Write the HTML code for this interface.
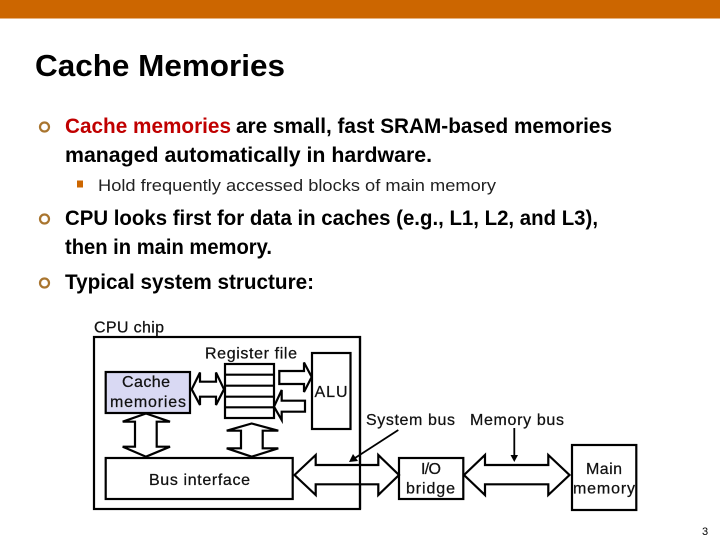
<!DOCTYPE html>
<html><head><meta charset="utf-8"><style>
html,body{margin:0;padding:0;background:#fff}
svg{display:block}
.t{font-family:"Liberation Sans",sans-serif;fill:#000}
.b{font-weight:bold;font-size:21px}
.d{font-size:16px;fill:#111;stroke:#111;stroke-width:.25px}
.s{fill:#fff;stroke:#000;stroke-width:2.2}
</style></head><body>
<svg width="720" height="540" viewBox="0 0 720 540" xmlns="http://www.w3.org/2000/svg">
<rect x="0" y="0" width="720" height="18.500" fill="#cc6600"/>
<text class="t" x="35" y="76" font-size="31" font-weight="bold" textLength="250" lengthAdjust="spacingAndGlyphs">Cache Memories</text>

<g fill="none" stroke="#a9752f" stroke-width="2.200"><circle cx="44.500" cy="127" r="4.500"/><circle cx="44.500" cy="219" r="4.500"/><circle cx="44.500" cy="283" r="4.500"/></g>
<rect x="77" y="180.500" width="6" height="7" fill="#cc6600"/>

<text class="t b" x="65" y="133" textLength="166" lengthAdjust="spacingAndGlyphs" style="fill:#c00000">Cache memories</text>
<text class="t b" x="236" y="133" textLength="376" lengthAdjust="spacingAndGlyphs">are small, fast SRAM-based memories</text>
<text class="t b" x="65" y="162" textLength="367" lengthAdjust="spacingAndGlyphs">managed automatically in hardware.</text>
<text class="t" x="98" y="191" font-size="17" textLength="398" lengthAdjust="spacingAndGlyphs" style="fill:#222">Hold frequently accessed blocks of main memory</text>
<text class="t b" x="65" y="225" textLength="533" lengthAdjust="spacingAndGlyphs">CPU looks first for data in caches (e.g., L1, L2, and L3),</text>
<text class="t b" x="65" y="254" textLength="207" lengthAdjust="spacingAndGlyphs">then in main memory.</text>
<text class="t b" x="65" y="289" textLength="249" lengthAdjust="spacingAndGlyphs">Typical system structure:</text>

<rect x="94" y="337" width="266" height="172" fill="#fff" stroke="#000" stroke-width="2.200"/>
<rect x="105.700" y="372" width="84.300" height="41" fill="#d9d9f3" stroke="#000" stroke-width="2.200"/>
<rect x="225" y="364" width="49" height="54" class="s"/>
<path d="M225 374.700H274M225 385.700H274M225 396.700H274M225 407.300H274" stroke="#000" stroke-width="2.200" fill="none"/>
<rect x="312" y="353" width="38.500" height="76" class="s"/>
<rect x="105.700" y="458" width="187" height="41" class="s"/>
<rect x="399" y="458" width="64.300" height="41" class="s"/>
<rect x="572" y="445" width="64.300" height="65" class="s"/>

<path class="s" d="M294.500 475L315.700 455V465H378.300V455L399 475L378.300 495V484.300H315.700V495Z"/>
<path d="M360 336V509" stroke="#000" stroke-width="2.200" fill="none"/>
<path class="s" d="M464 475L485 455V465H548.300V455L569.500 475L548.300 495V484.300H485V495Z"/>
<path class="s" d="M191.700 389.300L200 372.500V381.700H216V372.500L224 389.300L216 405V396.700H200V405Z"/>
<path class="s" d="M279.300 371H304V362.500L311.700 377L304 392V384H279.300Z"/>
<path class="s" d="M274 406.700L281.700 390V400.700H305V411.700H281.700V420Z"/>
<path class="s" d="M146 413.500L170 421.700H156.700V446.700H170L146 456.700L122.700 446.700H135V421.700H122.700Z"/>
<path class="s" d="M251.700 423.500L278.300 430.700H262.700V448.300H278.300L251.700 456.700L226.700 448.300H241V430.700H226.700Z"/>

<path d="M398.300 430L355 458" stroke="#000" stroke-width="1.800" fill="none"/>
<path d="M349 462L353 454L358 461Z" fill="#000"/>
<path d="M514.300 428V456" stroke="#000" stroke-width="1.800" fill="none"/>
<path d="M510.500 455H518L514.300 462Z" fill="#000"/>

<text class="t d" x="94" y="332.500" textLength="70">CPU chip</text>
<text class="t d" x="205" y="358.500" textLength="92">Register file</text>
<text class="t d" x="122" y="387" textLength="48">Cache</text>
<text class="t d" x="110" y="407" textLength="76">memories</text>
<text class="t d" x="314.500" y="397" textLength="33">ALU</text>
<text class="t d" x="366" y="425" textLength="89">System bus</text>
<text class="t d" x="470" y="425" textLength="94">Memory bus</text>
<text class="t d" x="149" y="485" textLength="101">Bus interface</text>
<text class="t d" x="421" y="474" textLength="20">I/O</text>
<text class="t d" x="406" y="493.500" textLength="49">bridge</text>
<text class="t d" x="586" y="474" textLength="36">Main</text>
<text class="t d" x="573" y="493.500" textLength="62">memory</text>

<text class="t" x="702" y="535" font-size="11">3</text>
</svg>
</body></html>
